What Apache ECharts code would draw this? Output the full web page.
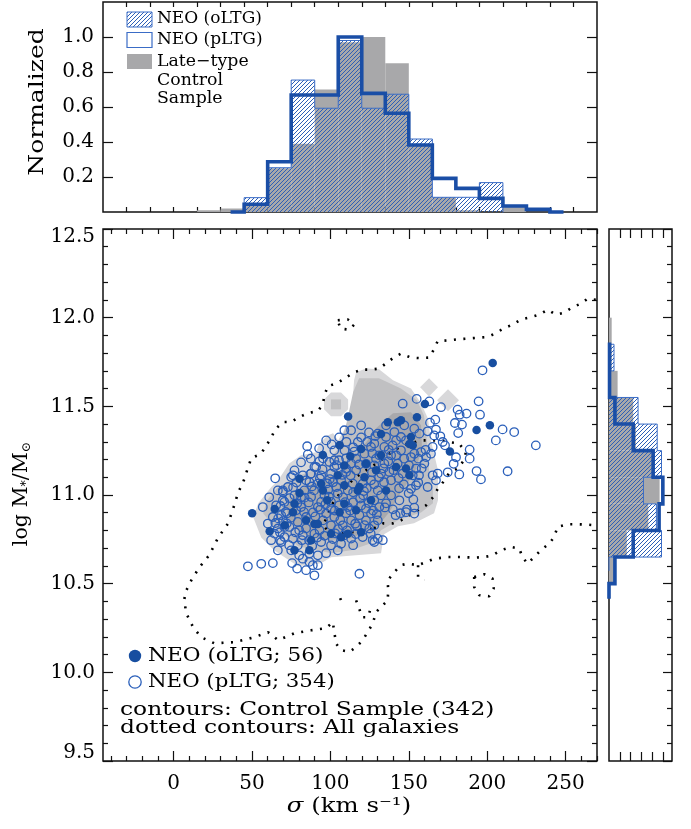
<!DOCTYPE html>
<html>
<head>
<meta charset="utf-8">
<script src="https://cdn.jsdelivr.net/npm/echarts@6/dist/echarts.min.js"></script>
<style>
  html, body { margin: 0; padding: 0; background: #fff; }
  #chart { width: 691px; height: 829px; }
</style>
</head>
<body>
<div id="chart"></div>
<script>
// ---------- data ----------
// sigma histogram (top panel), bin left edges, width 15 km/s
const sigmaBins = [15, 30, 45, 60, 75, 90, 105, 120, 135, 150, 165, 180, 195, 210, 225, 240];
const sigmaBinWidth = 15;
const controlSigma = [0.01, 0.02, 0.04, 0.25, 0.39, 0.70, 0.97, 1.00, 0.85, 0.38, 0.084, 0.01, 0, 0.03, 0, 0];
const oltgSigma = [0, 0, 0.082, 0.253, 0.754, 0.593, 0.98, 0.593, 0.673, 0.417, 0.084, 0.084, 0.168, 0, 0, 0];
const pltgSigma = [0, 0, 0.044, 0.287, 0.669, 0.669, 1.0, 0.678, 0.564, 0.383, 0.192, 0.135, 0.078, 0.034, 0.015, 0];

// mass histogram (right panel), bin lower edges, width 0.15 dex
const massBins = [10.50, 10.65, 10.80, 10.95, 11.10, 11.25, 11.40, 11.55, 11.70, 11.85];
const massBinWidth = 0.15;
const controlMass = [0.11, 0.33, 0.73, 0.94, 0.82, 0.50, 0.45, 0.16, 0.05, 0.05];
const oltgMass = [0, 0.975, 0.88, 0.64, 0.975, 0.895, 0.54, 0, 0.093, 0];
const pltgMass = [0.11, 0.45, 0.93, 1.0, 0.82, 0.45, 0.11, 0.01, 0.01, 0];

// tick labels
const sigmaTicks = [0, 50, 100, 150, 200, 250];
const massTicks = [9.5, 10.0, 10.5, 11.0, 11.5, 12.0, 12.5];
const normTicks = [0.2, 0.4, 0.6, 0.8, 1.0];

// NEO oLTG (filled) [sigma, logM]
const oltgPoints = [
  [203.5,11.745],[160.3,11.513],[111.3,11.442],[136.6,11.410],[143.0,11.410],[145.0,11.421],[155.2,11.438],
  [151.4,11.327],[193.2,11.367],[201.7,11.393],[176.2,11.245],[105.9,11.280],[95.2,11.226],[132.3,11.344],
  [119.6,11.260],[112.7,11.218],[122.7,11.176],[108.9,11.167],[141.9,11.158],[150.4,11.111],[108.9,11.055],
  [118.5,11.045],[80.3,11.091],[77.1,10.950],[64.5,10.921],[50.1,10.897],[61.3,10.795],[70.9,10.829],
  [77.1,10.688],[86.6,10.688],[89.8,10.837],[100.4,10.781],[106.8,10.762],[111.1,10.781],[119.6,10.790],
  [87.7,10.745],[80.3,11.011],[76.1,10.903],[95.2,11.026],[94.1,11.063],[108.9,10.950],[121.7,11.100],
  [92.0,10.837],[105.9,10.903],[104.7,11.111],[117.4,11.026],[148.2,11.149],[129.1,11.139],[152.5,11.280],
  [150.4,11.288],[98.0,10.970],[125.9,10.970],[135.5,11.026],[132.3,11.224],[84.5,10.857],[116.4,10.914]
];

// NEO pLTG (open) [sigma, logM]
const pltgPoints = [
  [197.0,11.703],[194.5,11.528],[155.0,11.542],[163.1,11.528],[170.5,11.495],[146.1,11.515],[181.1,11.481],
  [186.8,11.459],[182.4,11.453],[195.4,11.453],[179.4,11.406],[183.9,11.397],[181.5,11.349],[166.9,11.425],
  [163.5,11.408],[167.3,11.369],[162.0,11.359],[170.1,11.331],[209.8,11.370],[217.2,11.355],[205.5,11.308],
  [231.0,11.280],[188.8,11.256],[180.1,11.213],[188.8,11.205],[178.6,11.176],[174.8,11.128],[182.2,11.116],
  [193.2,11.135],[196.0,11.088],[213.0,11.134],[168.4,11.121],[165.2,11.111],[167.3,11.083],[162.0,11.045],
  [154.6,11.055],[153.5,10.929],[148.8,10.918],[141.6,10.886],[85.2,11.275],[85.6,11.229],[108.9,11.365],
  [151.4,11.035],[153.5,10.895],[148.2,10.903],[130.2,10.754],[133.4,10.745],[128.0,10.735],[118.5,10.556],
  [47.4,10.598],[55.9,10.612],[63.3,10.616],[56.9,10.932],[62.2,10.745],[66.5,10.688],[68.0,10.745],
  [75.6,10.616],[78.8,10.585],[84.5,10.576],[89.8,10.547],[88.8,10.604],[92.0,10.604],[86.6,10.623],
  [69.7,11.026],[69.7,10.970],[68.6,10.886],[66.5,10.811],[70.7,10.820],[86.6,11.073],[87.3,11.119],
  [94.1,10.961],[100.4,10.923],[111.1,10.932],[125.9,10.895],[128.0,10.829],[127.0,10.745],[77.1,11.139],
  [89.8,11.158],[102.5,11.196],
  [76.1,11.111],[82.4,11.111],[87.7,11.121],[94.1,11.111],[100.4,11.121],[106.8,11.083],[110.0,11.130],
  [114.3,11.064],[120.6,11.064],[125.9,11.083],[130.2,11.026],[128.0,10.970],[122.7,10.923],[118.5,10.886],
  [113.2,10.857],[107.9,10.829],[102.5,10.876],[97.3,10.895],[92.0,10.932],[87.7,10.989],[83.4,11.026],
  [72.9,11.045],[69.7,11.017],[70.7,10.961],[77.1,10.998],[81.3,10.932],[84.5,10.876],[79.2,10.848],
  [73.9,10.820],[70.7,10.763],[76.1,10.754],[82.4,10.773],[89.8,10.782],[94.1,10.735],[100.4,10.716],
  [106.8,10.725],[113.2,10.754],[120.6,10.763],[124.8,10.811],[130.2,10.857],[131.2,10.932],[92.0,11.064],
  [96.2,10.998],[104.7,11.008],[111.1,11.026],[100.4,10.961],[86.6,10.670],[82.4,10.641],[92.0,10.660],
  [104.7,10.688],[75.0,10.688],[79.2,10.716],[68.6,10.735],[64.3,10.782],[60.1,10.839],[63.3,10.876],
  [130.2,11.346],[135.5,11.327],[140.8,11.355],[145.0,11.327],[147.1,11.393],[153.5,11.374],[156.7,11.346],
  [128.0,11.290],[134.4,11.271],[139.7,11.280],[145.0,11.252],[138.7,11.224],[131.2,11.224],[147.1,11.205],
  [151.4,11.214],[142.9,11.177],[134.4,11.177],[128.0,11.167],[137.6,11.130],[154.6,11.149],[159.9,11.177],
  [152.5,11.111],[146.1,11.121],[132.3,11.121],[99.4,11.186],[102.5,11.158],[110.0,11.149],[116.4,11.205],
  [121.7,11.233],[125.9,11.271],[117.5,11.299],[122.7,11.176],[129.1,11.205],[90.9,11.158],[75.0,11.101],
  [66.5,11.026],[109.0,11.252],[102.5,11.252],[166.2,11.336],[173.1,11.280],[171.6,11.299],[164.1,11.233],
  [161.0,11.214],[157.8,11.242],[165.2,11.271],[156.1,11.205],[153.5,11.233],
  [113.2,11.365],[119.6,11.393],[124.6,11.353],[105.6,11.325],[97.3,11.308],[92.8,11.263],[114.5,11.269],
  [110.0,11.207],[116.4,11.139],[138.7,11.083],[143.8,11.038],[138.7,10.998],[135.5,10.953],[144.0,10.970],
  [120.9,10.998],[114.5,10.959],[105.6,10.942],[95.3,10.857],[88.9,10.902],[78.2,10.914],[72.4,10.897],
  [65.4,10.942],[61.0,10.987],[64.8,11.094],[81.3,11.184],[97.9,11.066],[110.6,10.801],[117.0,10.823],
  [103.0,10.784],[84.5,10.812],[66.7,10.868],
  [84.5,11.083],[89.6,11.026],[101.7,11.072],[108.1,10.987],[114.5,11.015],[123.2,11.038],[126.5,11.128],
  [134.2,11.072],[132.3,10.998],[127.2,10.912],[119.6,10.941],[110.0,10.897],[100.4,10.829],[93.1,10.801],
  [86.4,10.745],[80.1,10.801],[73.7,10.717],[69.8,10.853],[76.2,11.043],[81.3,10.987],[105.5,11.196],
  [95.3,11.207],[113.2,11.178],[119.6,11.325],[135.5,11.393],[141.9,11.308],[148.2,11.308],[150.1,11.167],
  [156.5,11.111],[141.9,11.224],[122.7,10.857],[114.5,10.717],[97.3,10.672],[80.1,10.660],
  [71.5,10.905],[74.8,10.872],[78.9,10.953],[83.1,10.905],[86.2,10.958],[90.4,10.879],[93.5,10.918],
  [96.8,10.948],[99.1,10.990],[102.8,10.912],[106.3,10.858],[109.4,10.960],[112.6,10.912],[115.8,10.838],
  [118.9,10.980],[121.4,11.022],[124.3,10.955],[127.9,11.060],[131.0,11.100],[133.8,11.150],[136.9,11.190],
  [140.2,11.140],[143.5,11.095],[146.8,11.060],[149.9,11.010],[152.9,10.975],[156.0,11.070],[158.2,11.150],
  [160.7,11.255],[137.2,11.255],[126.8,11.235],[118.3,11.172],[112.9,11.110],[107.6,11.113],[103.8,11.045],
  [98.6,11.030],[93.3,11.093],[88.2,11.048],[83.6,10.985],[78.4,11.070],[74.0,10.982],[68.2,10.938],
  [64.9,10.842],[67.8,10.790],[72.2,10.840],[77.6,10.790],[81.8,10.745],[88.4,10.712],[91.6,10.760],
  [96.2,10.770],[101.5,10.752],[104.9,10.808],[108.6,10.772],[116.2,10.780],[121.8,10.830],[125.7,10.782],
  [129.6,10.892],[134.7,10.930],[139.8,10.919],[144.6,10.897],[99.6,11.090],[95.0,11.145],[104.0,11.168],
  [115.2,11.245],[123.5,11.300],[128.6,11.332],[110.2,11.300],[100.8,11.285],[87.5,11.205],[93.0,11.190]
];

// control sample filled contours [sigma, logM] vertices
const contourLight = [
  [50.8,10.874],[54.0,10.953],[62.2,11.043],[66.7,11.083],[73.7,11.178],[81.3,11.224],[90.9,11.241],
  [92.8,11.291],[98.5,11.337],[101.7,11.348],[104.9,11.308],[108.7,11.365],[113.2,11.461],[114.5,11.573],
  [115.1,11.647],[116.4,11.692],[122.7,11.714],[131.0,11.709],[139.9,11.647],[151.4,11.601],[157.8,11.517],
  [162.2,11.432],[164.1,11.308],[168.6,11.139],[168.6,10.970],[166.1,10.897],[153.3,10.840],[143.1,10.824],
  [134.2,10.779],[132.3,10.672],[100.4,10.649],[94.1,10.615],[79.4,10.598],[64.1,10.688],[55.9,10.761]
];
const contourLightOctagon = [
  [111.3,11.539],[106.8,11.578],[100.4,11.578],[95.9,11.539],[95.9,11.483],[100.4,11.444],[106.8,11.444],[111.3,11.483]
];
const contourLightDiamondA = [[157.2,11.607],[162.9,11.658],[168.6,11.607],[162.9,11.556]];
const contourLightDiamondB = [[168.0,11.534],[175.0,11.596],[182.0,11.534],[175.0,11.472]];
const contourMid = [
  [57.1,10.897],[59.6,10.970],[66.0,11.038],[76.2,11.094],[89.0,11.139],[97.3,11.184],[105.5,11.263],
  [110.0,11.393],[114.5,11.579],[118.3,11.658],[131.0,11.658],[145.0,11.601],[155.2,11.534],[159.7,11.449],
  [161.6,11.308],[162.9,11.139],[165.4,11.026],[165.4,10.953],[157.8,10.902],[143.1,10.857],[132.3,10.801],
  [125.9,10.728],[113.2,10.688],[100.4,10.672],[92.2,10.688],[79.4,10.711],[73.1,10.761],[64.1,10.818]
];
const contourMidSquare = [[100.4,11.483],[106.8,11.483],[106.8,11.539],[100.4,11.539]];
const contourDark = [
  [71.8,10.942],[78.2,11.026],[90.9,11.072],[105.5,11.128],[118.3,11.241],[129.1,11.376],[139.9,11.461],
  [151.4,11.466],[157.8,11.393],[158.4,11.263],[153.9,11.128],[145.0,11.015],[137.4,10.902],[129.1,10.812],
  [113.2,10.756],[95.4,10.745],[81.3,10.784],[73.7,10.857]
];

// all-galaxies dotted contours [sigma, logM]
const allOuter = [
  [269.2,12.101],[264.0,12.107],[259.7,12.079],[253.8,12.056],[249.0,12.028],[243.8,12.017],[238.5,12.045],
  [233.1,12.017],[227.8,12.003],[221.5,11.990],[216.2,11.961],[210.8,11.941],[205.5,11.913],[200.3,11.891],
  [193.9,11.887],[187.5,11.882],[181.1,11.878],[174.8,11.872],[168.4,11.868],[166.2,11.825],[163.1,11.775],
  [156.7,11.772],[151.4,11.775],[145.0,11.797],[140.8,11.778],[136.6,11.750],[131.2,11.713],[125.9,11.707],
  [119.6,11.707],[114.3,11.688],[108.9,11.656],[104.3,11.631],[98.3,11.613],[96.2,11.562],[95.2,11.511],
  [92.0,11.473],[85.6,11.462],[80.3,11.440],[75.0,11.412],[69.7,11.412],[64.3,11.365],[62.2,11.318],
  [59.0,11.280],[55.9,11.233],[49.5,11.207],[46.9,11.139],[44.4,11.072],[41.2,11.015],[38.7,10.942],
  [34.8,10.840],[28.5,10.761],[22.7,10.660],[16.4,10.592],[11.3,10.519],[7.5,10.451],[6.8,10.406],
  [8.1,10.333],[12.5,10.254],[17.6,10.198],[25.9,10.164],[38.7,10.170],[51.4,10.198],[60.3,10.226],
  [66.7,10.181],[76.9,10.220],[87.7,10.237],[97.3,10.249],[101.5,10.284],[102.5,10.228],[103.6,10.162],
  [106.8,10.125],[112.1,10.115],[116.4,10.143],[120.6,10.181],[123.8,10.228],[127.0,10.275],[129.1,10.339],
  [132.3,10.369],[136.6,10.406],[136.8,10.463],[136.6,10.519],[140.8,10.566],[145.0,10.604],[149.3,10.613],
  [155.7,10.604],[161.0,10.622],[166.2,10.641],[174.8,10.650],[183.2,10.650],[191.7,10.647],[198.1,10.650],
  [203.4,10.660],[208.7,10.688],[215.1,10.707],[220.4,10.698],[222.5,10.650],[225.7,10.613],[229.9,10.650],
  [234.2,10.688],[239.5,10.726],[242.7,10.763],[244.8,10.820],[251.2,10.835],[257.6,10.835],[264.0,10.833],
  [269.2,10.829]
];
const allInner = [
  [127.8,10.812],[133.6,10.840],[140.0,10.840],[145.0,10.857],[155.9,10.914],[161.0,10.942],[165.5,10.987],
  [168.6,11.037],[171.8,11.072],[175.6,11.122],[181.3,11.150],[185.2,11.196],[186.4,11.241],[182.0,11.291],
  [176.9,11.297],[170.5,11.308],[164.1,11.308],[157.8,11.308],[146.3,11.280],[140.6,11.252],[132.3,11.196],
  [122.7,11.139],[115.1,11.094],[106.8,11.015],[102.4,10.970],[95.4,10.829],[99.2,10.790],[103.6,10.784],
  [113.2,10.790],[122.7,10.801],[127.8,10.812]
];
const allIslandTop = [[104.7,11.985],[111.1,11.990],[115.3,11.962],[112.1,11.932],[106.4,11.938],[104.7,11.985]];
const allIslandRight = [[191.7,10.538],[198.1,10.553],[203.4,10.529],[204.1,10.472],[201.3,10.429],[194.9,10.435],[191.7,10.481],[191.7,10.538]];
const allWiggleA = [[116.4,10.406],[118.3,10.361],[120.2,10.311],[124.0,10.311],[125.3,10.350]];
const allWiggleB = [[106.2,10.418],[108.1,10.384]];
const allWiggleC = [[155.9,10.604],[155.9,10.536],[159.9,10.519]];

// ---------- styling ----------
const FONT = '"DejaVu Serif", "Liberation Serif", serif';
const BLUE_LINE = '#1a4ea6';
const BLUE_THIN = '#3a6cc6';
const BLUE_FILL = '#174ea0';
const BLUE_OPEN = '#2a5fba';
const GRAY = '#a8a8aa';

function makeHatch(color) {
  const s = 4;
  const c = document.createElement('canvas');
  c.width = s; c.height = s;
  const g = c.getContext('2d');
  g.strokeStyle = color;
  g.lineWidth = 1;
  g.beginPath();
  g.moveTo(0, s); g.lineTo(s, 0);
  g.moveTo(-1, 1); g.lineTo(1, -1);
  g.moveTo(s - 1, s + 1); g.lineTo(s + 1, s - 1);
  g.stroke();
  return c;
}
const hatch = { image: makeHatch('#2d5fb7'), repeat: 'repeat' };

function range(a, b, step, skip) {
  const out = [];
  for (let v = a; v <= b + 1e-9; v += step) {
    const r = Math.round(v * 1000) / 1000;
    if (!skip || !skip.some(s => Math.abs(s - r) < 1e-6)) out.push(r);
  }
  return out;
}
const sigmaMinor = range(-40, 270, 10, sigmaTicks);
const massMinor = range(9.6, 12.4, 0.1, massTicks);
const sigmaHistTicks = range(-30, 255, 15);

function tickAxis(o) {
  return {
    type: 'value', gridIndex: o.grid, position: o.pos, min: o.min, max: o.max,
    axisLine: { show: false, onZero: false }, splitLine: { show: false },
    axisTick: { show: true, inside: true, length: o.len, customValues: o.ticks,
      lineStyle: { color: '#111', width: 1.2 } },
    axisLabel: o.labels ? {
      show: true, customValues: o.labels, margin: o.margin,
      fontFamily: FONT, fontSize: 20, color: '#000',
      formatter: o.fmt, rich: o.rich
    } : { show: false },
    show: o.show === undefined ? true : o.show
  };
}

function barsSeries(edges, width, values, fill, xi, yi, vertical, z) {
  return {
    type: 'custom', xAxisIndex: xi, yAxisIndex: yi, z: z, silent: true,
    data: edges.map((e, i) => [e, e + width, values[i]]).filter(d => d[2] > 0),
    encode: vertical ? { y: [0, 1], x: 2 } : { x: [0, 1], y: 2 },
    renderItem(params, api) {
      const a = api.value(0), b = api.value(1), h = api.value(2);
      const p0 = vertical ? api.coord([0, a]) : api.coord([a, 0]);
      const p1 = vertical ? api.coord([h, b]) : api.coord([b, h]);
      return {
        type: 'rect',
        shape: { x: Math.min(p0[0], p1[0]), y: Math.min(p0[1], p1[1]),
                 width: Math.abs(p1[0] - p0[0]), height: Math.abs(p1[1] - p0[1]) },
        style: { fill: fill }
      };
    }
  };
}

// outline of a histogram, optionally running half a bin along the baseline past each end
function stepPath(edges, width, values, vertical, extEnd) {
  const nz = values.map((v, i) => v > 0 ? i : -1).filter(i => i >= 0);
  const i0 = nz[0], i1 = nz[nz.length - 1];
  const pts = [[edges[i0] - width / 2, 0], [edges[i0], 0]];
  for (let i = i0; i <= i1; i++) {
    pts.push([edges[i], values[i]], [edges[i] + width, values[i]]);
  }
  pts.push([edges[i1] + width, 0]);
  if (extEnd) pts.push([edges[i1] + width * 1.5, 0]);
  return vertical ? pts.map(p => [p[1], p[0]]) : pts;
}

function stepSeries(pts, color, width, xi, yi, z) {
  return {
    type: 'line', xAxisIndex: xi, yAxisIndex: yi, z: z, silent: true,
    data: pts, symbol: 'none', clip: false,
    lineStyle: { color: color, width: width, join: 'miter', cap: 'square' }
  };
}

function polySeries(polys, fill, z) {
  return {
    type: 'custom', xAxisIndex: 2, yAxisIndex: 2, z: z, silent: true,
    data: polys.map(p => p[0]),
    renderItem(params, api) {
      const pts = polys[params.dataIndex].map(p => api.coord(p));
      return { type: 'polygon', shape: { points: pts }, style: { fill: fill } };
    }
  };
}

function dottedSeries(pts) {
  return {
    type: 'line', xAxisIndex: 2, yAxisIndex: 2, z: 4, silent: true,
    data: pts, symbol: 'none',
    lineStyle: { color: '#000', width: 2.6, type: [2, 7.5], cap: 'butt' }
  };
}

// text placed with a horizontal stretch (the figure's serif font is wider than DejaVu)
function label(text, x, y, size, sx, extra) {
  return Object.assign({
    type: 'text', x: x, y: y, scaleX: sx, z: 10, silent: true,
    style: Object.assign({ text: text, x: 0, y: 0, font: size + 'px ' + FONT, fill: '#000',
      textVerticalAlign: 'middle' }, extra && extra.style)
  }, extra && extra.el);
}

const chart = echarts.init(document.getElementById('chart'), null, { renderer: 'canvas' });

const frame = { show: true, borderColor: '#111', borderWidth: 1.5, backgroundColor: 'transparent' };

const option = {
  animation: false,
  backgroundColor: '#fff',
  grid: [
    Object.assign({ left: 103, top: 2, width: 494, height: 210 }, frame),   // 0 sigma histogram
    Object.assign({ left: 103, top: 229, width: 494, height: 532 }, frame), // 1 main
    { left: 103, top: 229, width: 494, height: 532 },                       // 2 main minor ticks
    Object.assign({ left: 609, top: 229, width: 63, height: 532 }, frame),  // 3 mass histogram
    { left: 609, top: 229, width: 63, height: 532 }                         // 4 its minor ticks
  ],
  xAxis: [
    tickAxis({ grid: 0, pos: 'bottom', min: -45, max: 270, ticks: sigmaHistTicks, len: 5 }),
    tickAxis({ grid: 0, pos: 'top', min: -45, max: 270, ticks: sigmaHistTicks, len: 5 }),
    tickAxis({ grid: 1, pos: 'bottom', min: -45, max: 270, ticks: sigmaTicks, len: 10,
      labels: sigmaTicks, margin: 13, fmt: v => String(v) }),
    tickAxis({ grid: 1, pos: 'top', min: -45, max: 270, ticks: sigmaTicks, len: 10 }),
    tickAxis({ grid: 2, pos: 'bottom', min: -45, max: 270, ticks: sigmaMinor, len: 5 }),
    tickAxis({ grid: 2, pos: 'top', min: -45, max: 270, ticks: sigmaMinor, len: 5 }),
    tickAxis({ grid: 3, pos: 'bottom', min: 0, max: 1.17, ticks: normTicks, len: 9 }),
    tickAxis({ grid: 3, pos: 'top', min: 0, max: 1.17, ticks: normTicks, len: 9 }),
    tickAxis({ grid: 4, pos: 'bottom', min: 0, max: 1.17, ticks: [], len: 0, show: false })
  ],
  yAxis: [
    tickAxis({ grid: 0, pos: 'left', min: 0, max: 1.2, ticks: normTicks, len: 10,
      labels: normTicks, margin: 9, fmt: v => v.toFixed(1) }),
    tickAxis({ grid: 0, pos: 'right', min: 0, max: 1.2, ticks: normTicks, len: 10 }),
    tickAxis({ grid: 1, pos: 'left', min: 9.5, max: 12.5, ticks: massTicks, len: 10,
      labels: massTicks, margin: 8,
      // end labels sit inside the frame, as in the figure
      fmt: v => v >= 12.5 ? '{hi|' + v.toFixed(1) + '}' : v <= 9.5 ? '{lo|' + v.toFixed(1) + '}' : v.toFixed(1),
      rich: {
        hi: { fontFamily: FONT, fontSize: 20, color: '#000', padding: [16, 0, 0, 0] },
        lo: { fontFamily: FONT, fontSize: 20, color: '#000', padding: [0, 0, 16, 0] }
      } }),
    tickAxis({ grid: 1, pos: 'right', min: 9.5, max: 12.5, ticks: massTicks, len: 10 }),
    tickAxis({ grid: 2, pos: 'left', min: 9.5, max: 12.5, ticks: massMinor, len: 5 }),
    tickAxis({ grid: 2, pos: 'right', min: 9.5, max: 12.5, ticks: massMinor, len: 5 }),
    tickAxis({ grid: 3, pos: 'right', min: 9.5, max: 12.5, ticks: massTicks, len: 9 }),
    tickAxis({ grid: 4, pos: 'right', min: 9.5, max: 12.5, ticks: massMinor, len: 5 })
  ],
  series: [
    // sigma histogram
    barsSeries(sigmaBins, sigmaBinWidth, controlSigma, GRAY, 0, 0, false, 1),
    barsSeries(sigmaBins, sigmaBinWidth, oltgSigma, hatch, 0, 0, false, 2),
    stepSeries(stepPath(sigmaBins, sigmaBinWidth, oltgSigma, false, false), BLUE_THIN, 1, 0, 0, 3),
    stepSeries(stepPath(sigmaBins, sigmaBinWidth, pltgSigma, false, true), BLUE_LINE, 3.6, 0, 0, 4),

    // main panel contours
    polySeries([contourLight, contourLightOctagon, contourLightDiamondA, contourLightDiamondB], '#d8d8da', 1),
    polySeries([contourMid, contourMidSquare], '#c0c0c2', 2),
    polySeries([contourDark], '#a9a9ac', 3),
    dottedSeries(allOuter),
    dottedSeries(allInner),
    dottedSeries(allIslandTop),
    dottedSeries(allIslandRight),
    dottedSeries(allWiggleA),
    dottedSeries(allWiggleB),
    dottedSeries(allWiggleC),

    // NEO points
    {
      type: 'scatter', xAxisIndex: 2, yAxisIndex: 2, z: 5, silent: true,
      data: pltgPoints, symbol: 'circle', symbolSize: 8.5,
      itemStyle: { color: 'rgba(255,255,255,0)', borderColor: BLUE_OPEN, borderWidth: 1.3, opacity: 1 }
    },
    {
      type: 'scatter', xAxisIndex: 2, yAxisIndex: 2, z: 6, silent: true,
      data: oltgPoints, symbol: 'circle', symbolSize: 8.5,
      itemStyle: { color: BLUE_FILL, opacity: 1 }
    },

    // mass histogram
    barsSeries(massBins, massBinWidth, controlMass, GRAY, 6, 6, true, 1),
    barsSeries(massBins, massBinWidth, oltgMass, hatch, 6, 6, true, 2),
    stepSeries(stepPath(massBins, massBinWidth, oltgMass, true, false), BLUE_THIN, 1, 6, 6, 3),
    stepSeries(stepPath(massBins, massBinWidth, pltgMass, true, false), BLUE_LINE, 3.6, 6, 6, 4)
  ],
  graphic: [
    // axis titles
    label('Normalized', 38, 102, 20, 1.25,
      { el: { rotation: Math.PI / 2 }, style: { textAlign: 'center' } }),
    label('{a|log M}{s|*}{a|/M}{s|⊙}', 22, 494, 20, 1.03,
      { el: { rotation: Math.PI / 2 }, style: { textAlign: 'center', rich: {
        a: { fontFamily: FONT, fontSize: 20, color: '#000' },
        s: { fontFamily: FONT, fontSize: 12, color: '#000', verticalAlign: 'bottom', padding: [9, 0, 0, 0] }
      } } }),
    label('{it|σ} (km s⁻¹)', 349, 807, 20, 1.22,
      { style: { textAlign: 'center', rich: {
        it: { fontFamily: FONT, fontSize: 20, fontStyle: 'italic', color: '#000' }
      } } }),

    // histogram legend
    { type: 'rect', shape: { x: 127, y: 12, width: 25, height: 15 }, style: { fill: hatch, stroke: BLUE_THIN, lineWidth: 1 }, z: 10 },
    label('NEO (oLTG)', 157, 19, 16.5, 1.03),
    { type: 'rect', shape: { x: 127, y: 32.5, width: 25, height: 15 }, style: { fill: '#fff', stroke: BLUE_THIN, lineWidth: 1.2 }, z: 10 },
    label('NEO (pLTG)', 157, 40, 16.5, 1.03),
    { type: 'rect', shape: { x: 127, y: 54, width: 25, height: 15 }, style: { fill: GRAY }, z: 10 },
    label('Late−type', 157, 62, 16.5, 1.05),
    label('Control', 157, 81, 16.5, 1.05),
    label('Sample', 157, 99, 16.5, 1.05),

    // scatter legend
    { type: 'circle', shape: { cx: 135, cy: 656, r: 6.2 }, style: { fill: BLUE_FILL }, z: 10 },
    label('NEO (oLTG; 56)', 148, 656, 19, 1.14),
    { type: 'circle', shape: { cx: 135, cy: 682, r: 6.2 }, style: { fill: 'rgba(255,255,255,0)', stroke: BLUE_OPEN, lineWidth: 1.3 }, z: 10 },
    label('NEO (pLTG; 354)', 148, 682, 19, 1.12),
    label('contours: Control Sample (342)', 120, 710, 19, 1.23),
    label('dotted contours: All galaxies', 120, 728, 19, 1.23)
  ]
};

chart.setOption(option);
</script>
</body>
</html>
